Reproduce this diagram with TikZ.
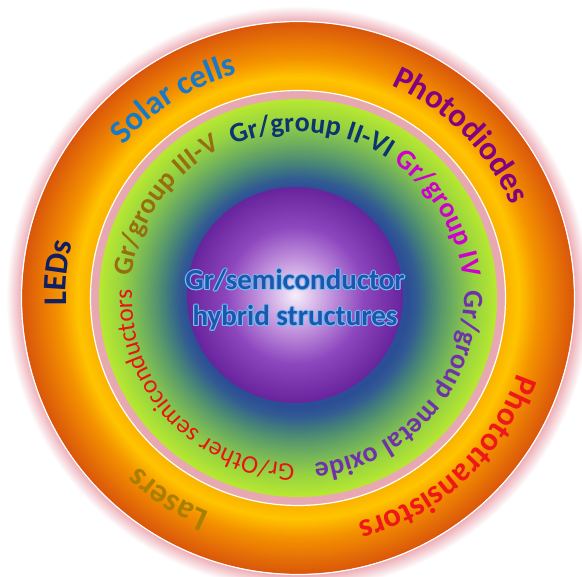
\documentclass[tikz,border=0pt]{standalone}
\usepackage{fontspec}
\setmainfont{Carlito}
\usetikzlibrary{decorations.text}

\definecolor{glowpink}{RGB}{236,168,178}
\definecolor{bandpink}{RGB}{232,168,178}
\definecolor{ringinner}{RGB}{250,178,0}
\definecolor{ringyellow}{RGB}{255,196,0}
\definecolor{ringmid}{RGB}{244,146,0}
\definecolor{ringouter}{RGB}{218,86,10}
\definecolor{gblue}{RGB}{44,78,150}
\definecolor{gsteel}{RGB}{50,92,146}
\definecolor{gteal}{RGB}{64,122,126}
\definecolor{ggreen}{RGB}{88,152,108}
\definecolor{gleaf}{RGB}{118,182,88}
\definecolor{glime}{RGB}{152,212,64}
\definecolor{gedge}{RGB}{184,232,48}
\definecolor{sphhi}{RGB}{246,238,250}
\definecolor{sphmid}{RGB}{196,150,222}
\definecolor{sphlo}{RGB}{140,70,190}
\definecolor{sphedge}{RGB}{104,36,156}
\definecolor{solarblue}{RGB}{22,122,200}
\definecolor{diodepurple}{RGB}{130,0,130}
\definecolor{transred}{RGB}{238,24,24}
\definecolor{laserolive}{RGB}{168,128,0}
\definecolor{lednavy}{RGB}{16,30,100}
\definecolor{threefive}{RGB}{150,110,16}
\definecolor{twosix}{RGB}{12,52,112}
\definecolor{groupfour}{RGB}{206,0,206}
\definecolor{oxidepurple}{RGB}{112,50,170}
\definecolor{otherred}{RGB}{230,20,20}
\definecolor{coreblue}{RGB}{28,86,176}
\definecolor{coreglow}{RGB}{120,190,235}

% radii in bp: 25bp is the edge of the shaded circle
\pgfdeclareradialshading{glowshade}{\pgfpoint{0bp}{0bp}}{color(0bp)=(glowpink); color(23.6bp)=(glowpink); color(25bp)=(white); color(50bp)=(white)}
\pgfdeclareradialshading{ringshade}{\pgfpoint{0bp}{0bp}}{color(0bp)=(ringinner); color(18.8bp)=(ringinner); color(20bp)=(ringyellow); color(21.7bp)=(ringmid); color(25bp)=(ringouter); color(50bp)=(ringouter)}
\pgfdeclareradialshading{greenshade}{\pgfpoint{0bp}{0bp}}{color(0bp)=(gblue); color(13.8bp)=(gblue); color(15bp)=(gsteel); color(16.4bp)=(gteal); color(18bp)=(ggreen); color(20bp)=(gleaf); color(22.3bp)=(glime); color(25bp)=(gedge); color(50bp)=(gedge)}
\pgfdeclareradialshading{sphereshade}{\pgfpoint{0bp}{0bp}}{color(0bp)=(sphhi); color(8bp)=(sphmid); color(16bp)=(sphlo); color(25bp)=(sphedge); color(50bp)=(sphedge)}

\newcommand\outerlabel{\bfseries\fontsize{33}{33}\selectfont}
\newcommand\innerlabel{\bfseries\fontsize{28}{28}\selectfont}
\newcommand\otherlabel{\fontsize{25.5}{25.5}\selectfont}

\tikzset{
  ringtext/.style={decorate, decoration={text along path, text align=center, text={#1}}},
  corelabel/.style={align=center, font=\bfseries\fontsize{29}{36}\selectfont}
}

\begin{document}
\begin{tikzpicture}[x=1pt,y=1pt]
\useasboundingbox (-298,-279) rectangle (284,298);
% rings
\shade[shading=glowshade] (0,0) circle (292);
\shade[shading=ringshade] (0,0) circle (276);
\draw[white,line width=1.2] (0,0) circle (276.5);
\fill[bandpink] (0,0) circle (207);
\draw[white,line width=1.2] (0,0) circle (207.5);
\shade[shading=greenshade] (0,0) circle (199);
\shade[shading=sphereshade] (-3,3) circle (108);
% applications
\path[ringtext={|\outerlabel\color{solarblue}|Solar cells}] (167:232) arc[start angle=167,end angle=77,radius=232];
\path[ringtext={|\outerlabel\color{diodepurple}|Photodiodes}] (90:232) arc[start angle=90,end angle=0,radius=232];
\path[ringtext={|\outerlabel\color{transred}|Phototransistors}] (-2:232) arc[start angle=-2,end angle=-92,radius=232];
\path[ringtext={|\outerlabel\color{laserolive}|Lasers}] (-78:232) arc[start angle=-78,end angle=-168,radius=232];
\path[ringtext={|\outerlabel\color{lednavy}|LEDs}] (219:232) arc[start angle=219,end angle=129,radius=232];
% materials
\path[ringtext={|\innerlabel\color{threefive}|Gr/group III-V}] (210:168) arc[start angle=210,end angle=80,radius=168];
\path[ringtext={|\innerlabel\color{twosix}|Gr/group II-VI}] (150:166) arc[start angle=150,end angle=20,radius=166];
\path[ringtext={|\innerlabel\color{groupfour}|Gr/group IV}] (96:166) arc[start angle=96,end angle=-34,radius=166];
\path[ringtext={|\innerlabel\color{oxidepurple}|Gr/group metal oxide}] (24:166) arc[start angle=24,end angle=-106,radius=166];
\path[ringtext={|\otherlabel\color{otherred}|Gr/Other semiconductors}] (-67:166) arc[start angle=-67,end angle=-207,radius=166];
% core
\foreach \a in {0,45,...,315}
  \node[corelabel,text=coreglow,shift={(\a:1.1)}] at (-3,-2) {Gr/semiconductor\\hybrid structures};
\node (core) [corelabel,text=coreblue] at (-3,-2) {Gr/semiconductor\\hybrid structures};
\end{tikzpicture}
\end{document}
